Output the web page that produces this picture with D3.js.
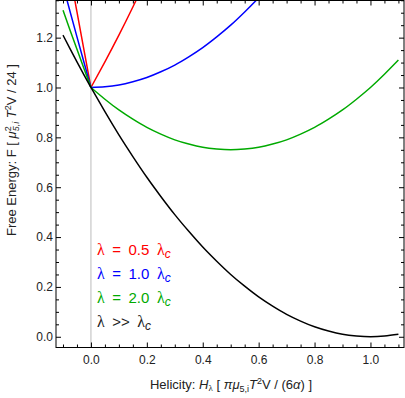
<!DOCTYPE html>
<html>

<head>
    <meta charset="utf-8">
    <style>
        body { margin: 0; background: #fff; }
        svg { display: block; font-family: "Liberation Sans", Arial, sans-serif; }
        .tick text { font-size: 12px; fill: #222; }
        .tick line { stroke: #000; }
        .curve { fill: none; stroke-width: 1.5; }
        .greek { font-family: "Liberation Serif", "DejaVu Serif", serif; }
    </style>
</head>

<body>
    <svg width="405" height="398"></svg>
    <script src="https://d3js.org/d3.v7.min.js"></script>
    <script>
        // helicity grid, left branch (H < 0) and right branch (H >= 0)
        var hLeft = [-0.1, -0.075, -0.05, -0.025, 0];
        var hRight = [0, 0.05, 0.1, 0.15, 0.2, 0.25, 0.3, 0.35, 0.4, 0.45, 0.5, 0.55,
            0.6, 0.65, 0.7, 0.75, 0.8, 0.85, 0.9, 0.95, 1.0, 1.05, 1.1];

        // free energy
        var redLeft = [1.610, 1.456, 1.303, 1.151, 1.000];
        var redRight = [1.000, 1.103, 1.210, 1.323, 1.440];
        var blueLeft = [1.410, 1.306, 1.203, 1.101, 1.000];
        var blueRight = [1.000, 1.003, 1.010, 1.023, 1.040, 1.063, 1.090, 1.123, 1.160, 1.203,
            1.250, 1.303, 1.360, 1.423];
        var greenLeft = [1.310, 1.231, 1.153, 1.076, 1.000];
        var greenRight = [1.000, 0.953, 0.910, 0.873, 0.840, 0.813, 0.790, 0.773, 0.760, 0.753,
            0.750, 0.753, 0.760, 0.773, 0.790, 0.813, 0.840, 0.873, 0.910, 0.953, 1.000, 1.053, 1.110];
        var blackLeft = [1.210, 1.156, 1.103, 1.051, 1.000];
        var blackRight = [1.000, 0.903, 0.810, 0.723, 0.640, 0.563, 0.490, 0.423, 0.360, 0.303,
            0.250, 0.203, 0.160, 0.123, 0.090, 0.063, 0.040, 0.023, 0.010, 0.003, 0.000, 0.003, 0.010];

        var xMajor = [0.0, 0.2, 0.4, 0.6, 0.8, 1.0];
        var yMajor = [0.0, 0.2, 0.4, 0.6, 0.8, 1.0, 1.2];

        var series = [
            { color: "#ff0000", left: redLeft, right: redRight, label: "0.5" },
            { color: "#0000ff", left: blueLeft, right: blueRight, label: "1.0" },
            { color: "#00aa00", left: greenLeft, right: greenRight, label: "2.0" },
            { color: "#000000", left: blackLeft, right: blackRight, label: null }
        ];

        var svg = d3.select("svg");
        var plot = { left: 56, right: 404, top: 0.5, bottom: 347.5 };

        var x = d3.scaleLinear().domain([-0.125, 1.12]).range([plot.left, plot.right]);
        var y = d3.scaleLinear().domain([-0.043, 1.349]).range([plot.bottom, plot.top]);

        svg.append("clipPath").attr("id", "clip")
            .append("rect")
            .attr("x", plot.left).attr("y", plot.top)
            .attr("width", plot.right - plot.left).attr("height", plot.bottom - plot.top);

        // H = 0 guide
        svg.append("line")
            .attr("x1", x(0)).attr("x2", x(0))
            .attr("y1", plot.top).attr("y2", plot.bottom)
            .attr("stroke", "#bbbbbb").attr("stroke-width", 1);

        var line = d3.line()
            .x(function (d) { return x(d[0]); })
            .y(function (d) { return y(d[1]); })
            .curve(d3.curveNatural);

        var curves = svg.append("g").attr("clip-path", "url(#clip)");
        series.forEach(function (s) {
            [[hLeft, s.left], [hRight, s.right]].forEach(function (b) {
                var pts = b[1].map(function (v, i) { return [b[0][i], v]; });
                curves.append("path")
                    .attr("class", "curve")
                    .attr("stroke", s.color)
                    .attr("d", line(pts));
            });
        });

        // minor ticks every 0.05
        var xMinor = d3.range(-0.1, 1.101, 0.05).filter(function (v) {
            return Math.abs(v * 5 - Math.round(v * 5)) > 1e-6;
        });
        var yMinor = d3.range(-0.0, 1.351, 0.05).filter(function (v) {
            return Math.abs(v * 5 - Math.round(v * 5)) > 1e-6;
        });

        function frameAxis(axis, scale, major, minor, transform, labels) {
            var g = svg.append("g").attr("transform", transform);
            g.call(axis(scale).tickValues(major).tickSize(-5).tickPadding(labels ? (axis === d3.axisBottom ? 8 : 3) : 0)
                .tickFormat(labels ? d3.format(".1f") : ""));
            g.select(".domain").remove();
            var m = svg.append("g").attr("transform", transform);
            m.call(axis(scale).tickValues(minor).tickSize(-3).tickFormat(""));
            m.select(".domain").remove();
            return g;
        }

        frameAxis(d3.axisBottom, x, xMajor, xMinor, "translate(0," + plot.bottom + ")", true);
        frameAxis(d3.axisLeft, y, yMajor, yMinor, "translate(" + plot.left + ",0)", true);
        frameAxis(d3.axisTop, x, xMajor, xMinor, "translate(0," + plot.top + ")", false);
        frameAxis(d3.axisRight, y, yMajor, yMinor, "translate(" + plot.right + ",0)", false);
        svg.selectAll(".tick text").attr("font-family", null).attr("font-size", null);

        svg.append("rect")
            .attr("x", plot.left).attr("y", plot.top)
            .attr("width", plot.right - plot.left).attr("height", plot.bottom - plot.top)
            .attr("fill", "none").attr("stroke", "#000").attr("stroke-width", 1);

        // legend
        var legend = svg.append("g").attr("font-size", 15);
        series.forEach(function (s, i) {
            var t = legend.append("text")
                .attr("x", 97).attr("y", 255 + i * 24)
                .attr("fill", s.label ? s.color : "#222");
            t.append("tspan").attr("class", "greek").attr("font-size", 16).text("\u03bb");
            t.append("tspan").text(s.label ? "\u2002=\u2002" + s.label + "\u2002" : "\u2002>>\u2002");
            t.append("tspan").attr("class", "greek").attr("font-size", 16).text("\u03bb");
            t.append("tspan").attr("dy", 3).attr("font-size", 12).attr("font-style", "italic").text("c");
        });

        // x title
        var xt = svg.append("text")
            .attr("x", 231).attr("y", 389)
            .attr("text-anchor", "middle")
            .attr("font-size", 13).attr("fill", "#222");
        xt.append("tspan").text("Helicity:  ");
        xt.append("tspan").attr("font-style", "italic").text("H");
        xt.append("tspan").attr("class", "greek").attr("font-size", 9).attr("dy", 2).text("\u03bb");
        xt.append("tspan").attr("dy", -2).text("  [ ");
        xt.append("tspan").attr("font-style", "italic").text("\u03c0\u03bc");
        xt.append("tspan").attr("font-size", 9).attr("dy", 3).text("5,i");
        xt.append("tspan").attr("font-style", "italic").attr("dy", -3).text("T");
        xt.append("tspan").attr("font-size", 9).attr("dy", -5).text("2");
        xt.append("tspan").attr("dy", 5).text("V / (6");
        xt.append("tspan").attr("font-style", "italic").text("\u03b1");
        xt.append("tspan").text(") ]");

        // y title
        var yt = svg.append("text")
            .attr("transform", "translate(16,150) rotate(-90)")
            .attr("text-anchor", "middle")
            .attr("font-size", 13).attr("fill", "#222");
        yt.append("tspan").text("Free Energy:  F [ ");
        yt.append("tspan").attr("font-style", "italic").text("\u03bc");
        yt.append("tspan").attr("font-size", 9).attr("dy", -5).text("2");
        yt.append("tspan").attr("font-size", 9).attr("font-style", "italic").attr("dx", -5).attr("dy", 8).text("5,i");
        yt.append("tspan").attr("font-style", "italic").attr("dy", -3).text(" T");
        yt.append("tspan").attr("font-size", 9).attr("dy", -5).text("2");
        yt.append("tspan").attr("dy", 5).text("V / 24 ]");
    </script>
</body>

</html>
